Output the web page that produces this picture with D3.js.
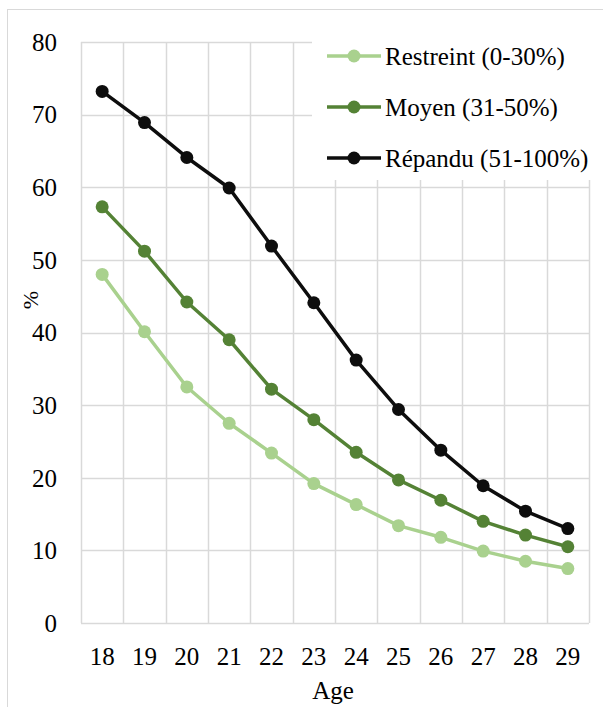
<!DOCTYPE html>
<html>
<head>
<meta charset="utf-8">
<script src="https://cdn.jsdelivr.net/npm/d3@7"></script>
<style>
  svg text { font-family: "Times New Roman", "Liberation Serif", Tinos !important; }
</style>
</head>
<body style="margin:0">
<script>
// ages on the x axis
var ages = ["18", "19", "20", "21", "22", "23", "24", "25", "26", "27", "28", "29"];

// series values (%)
var restreint = [48.0, 40.1, 32.5, 27.5, 23.4, 19.2, 16.3, 13.4, 11.8, 9.9, 8.5, 7.5];
var moyen = [57.3, 51.2, 44.2, 39.0, 32.2, 28.0, 23.5, 19.7, 16.9, 14.0, 12.1, 10.5];
var repandu = [73.2, 68.9, 64.1, 59.9, 51.9, 44.1, 36.2, 29.4, 23.8, 18.9, 15.4, 13.0];

var seriesNames = ["Restreint (0-30%)", "Moyen (31-50%)", "Répandu (51-100%)"];
var yTicks = [0, 10, 20, 30, 40, 50, 60, 70, 80];

var colors = ["#a9d18e", "#548235", "#0d0d0d"];
var series = [restreint, moyen, repandu].map(function(v, i) {
    return { name: seriesNames[i], values: v, color: colors[i] };
});

var FONT = "'Times New Roman'";
var width = 603, height = 707;
var margin = { top: 42, right: 14, bottom: 84, left: 81 };

var svg = d3.select("body").append("svg")
    .attr("width", width)
    .attr("height", height);

// outer chart border
svg.append("rect")
    .attr("x", 7.5).attr("y", 9.5)
    .attr("width", 620).attr("height", 720)
    .attr("fill", "none")
    .attr("stroke", "#d9d9d9");

var x = d3.scaleBand()
    .domain(ages)
    .range([margin.left, width - margin.right]);

var y = d3.scaleLinear()
    .domain([0, 80])
    .range([height - margin.bottom, margin.top]);

var grid = svg.append("g").attr("class", "grid");

// horizontal gridlines
grid.selectAll("line.h")
    .data(yTicks)
    .enter().append("line")
    .attr("class", "h")
    .attr("x1", margin.left).attr("x2", width - margin.right)
    .attr("y1", function(d) { return Math.round(y(d)) + 0.5; })
    .attr("y2", function(d) { return Math.round(y(d)) + 0.5; })
    .attr("stroke", "#d9d9d9").attr("stroke-width", 1.5);

// vertical gridlines between categories
var bounds = ages.map(function(a) { return x(a); }).concat([x(ages[ages.length - 1]) + x.bandwidth()]);
grid.selectAll("line.v")
    .data(bounds)
    .enter().append("line")
    .attr("class", "v")
    .attr("x1", function(d) { return Math.round(d) + 0.5; })
    .attr("x2", function(d) { return Math.round(d) + 0.5; })
    .attr("y1", y(80)).attr("y2", y(0))
    .attr("stroke", "#d9d9d9").attr("stroke-width", 1.5);

// y tick labels
svg.append("g").selectAll("text")
    .data(yTicks)
    .enter().append("text")
    .attr("x", 57)
    .attr("y", function(d) { return y(d); })
    .attr("dy", "0.35em")
    .attr("text-anchor", "end")
    .attr("font-family", FONT)
    .style("font-size", "25px")
    .text(function(d) { return d; });

// x tick labels
svg.append("g").selectAll("text")
    .data(ages)
    .enter().append("text")
    .attr("x", function(d) { return x(d) + x.bandwidth() / 2; })
    .attr("y", y(0) + 33)
    .attr("dy", "0.35em")
    .attr("text-anchor", "middle")
    .attr("font-family", FONT)
    .style("font-size", "25px")
    .text(function(d) { return d; });

// axis titles
svg.append("text")
    .attr("x", 333).attr("y", 690)
    .attr("dy", "0.35em")
    .attr("text-anchor", "middle")
    .attr("font-family", FONT)
    .style("font-size", "25px")
    .text("Age");

svg.append("text")
    .attr("transform", "translate(30,300) rotate(-90)")
    .attr("dy", "0.35em")
    .attr("text-anchor", "middle")
    .attr("font-family", FONT)
    .style("font-size", "22px")
    .text("%");

var line = d3.line()
    .x(function(d, i) { return x(ages[i]) + x.bandwidth() / 2; })
    .y(function(d) { return y(d); });

var lines = svg.append("g").attr("class", "series");

series.forEach(function(s) {
    var g = lines.append("g");
    g.append("path")
        .datum(s.values)
        .attr("d", line)
        .attr("fill", "none")
        .attr("stroke", s.color)
        .attr("stroke-width", 3.5)
        .attr("stroke-linejoin", "round");
    g.selectAll("circle")
        .data(s.values)
        .enter().append("circle")
        .attr("cx", function(d, i) { return x(ages[i]) + x.bandwidth() / 2; })
        .attr("cy", function(d) { return y(d); })
        .attr("r", 6.5)
        .attr("fill", s.color);
});

// legend, with a white box that hides the gridlines behind it
var legend = svg.append("g").attr("class", "legend");
legend.append("rect")
    .attr("x", 312).attr("y", 30)
    .attr("width", 280).attr("height", 150)
    .attr("fill", "#fff");

var item = legend.selectAll("g.item")
    .data(series)
    .enter().append("g")
    .attr("class", "item")
    .attr("transform", function(d, i) { return "translate(0," + (56 + i * 51) + ")"; });

item.append("line")
    .attr("x1", 327).attr("x2", 381)
    .attr("stroke", function(d) { return d.color; })
    .attr("stroke-width", 3.5);

item.append("circle")
    .attr("cx", 354).attr("r", 6.5)
    .attr("fill", function(d) { return d.color; });

item.append("text")
    .attr("x", 385)
    .attr("dy", "0.35em")
    .attr("font-family", FONT)
    .style("font-size", "25px")
    .text(function(d) { return d.name; });
</script>
</body>
</html>
